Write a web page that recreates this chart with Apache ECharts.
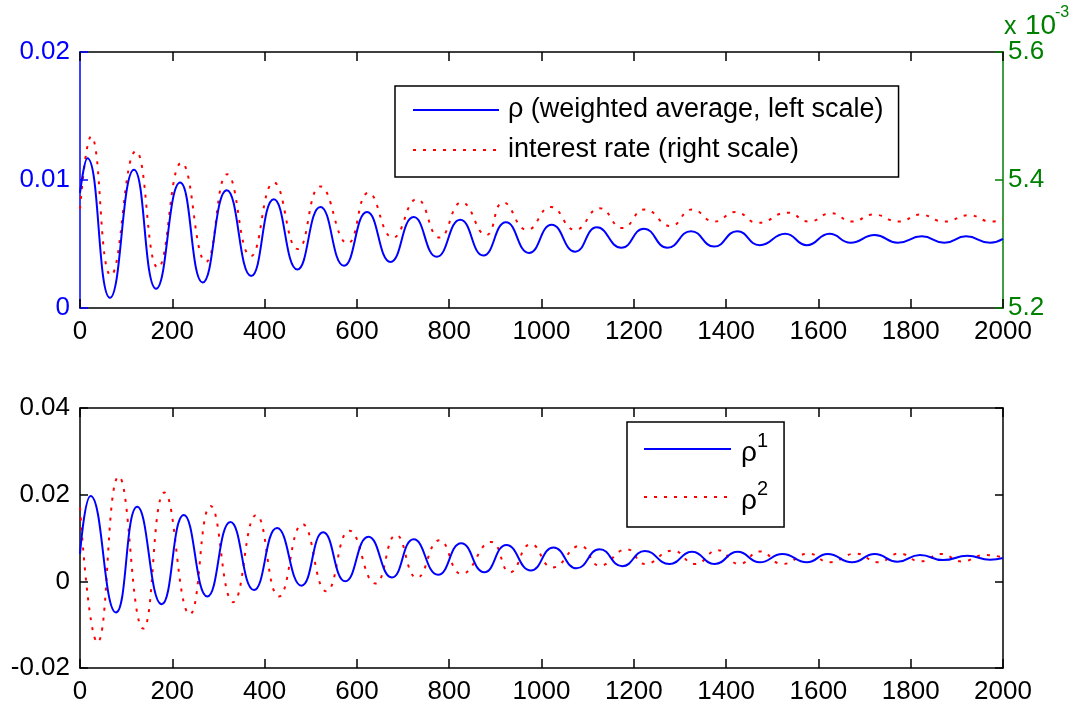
<!DOCTYPE html>
<html>
<head>
<meta charset="utf-8">
<script src="https://cdn.jsdelivr.net/npm/echarts@6/dist/echarts.min.js"></script>
<style>
html,body{margin:0;padding:0;background:#fff;}
#chart{width:1076px;height:711px;}
</style>
</head>
<body>
<div id="chart"></div>
<script>
// ---------- data ----------
const xTicks = [0, 200, 400, 600, 800, 1000, 1200, 1400, 1600, 1800, 2000];

// top panel: rho (weighted average, left scale)
const rhoAvgT = [0, 16, 65, 117, 165, 217, 266, 318, 371, 420, 471, 521, 572, 622, 673, 723, 773, 824, 874, 923, 973, 1022, 1073, 1120, 1173, 1222, 1273, 1324, 1374, 1424, 1473, 1528, 1575, 1624, 1670, 1722, 1772, 1824, 1873, 1920, 1972, 2000];
const rhoAvgV = [0.0090, 0.0117, 0.0008, 0.0108, 0.0015, 0.0098, 0.0020, 0.0092, 0.0025, 0.0085, 0.0030, 0.0079, 0.0033, 0.0075, 0.0036, 0.0071, 0.0040, 0.0069, 0.0041, 0.0067, 0.0043, 0.0065, 0.0044, 0.0063, 0.0047, 0.0062, 0.0047, 0.0060, 0.0048, 0.0060, 0.0049, 0.0058, 0.0049, 0.0058, 0.0051, 0.0057, 0.0051, 0.0056, 0.0051, 0.0056, 0.0051, 0.0054];

// top panel: interest rate (right scale, x 10^-3)
const rateT = [0, 24, 67, 121, 169, 220, 273, 319, 370, 420, 472, 521, 580, 625, 678, 730, 779, 827, 880, 917, 969, 1020, 1073, 1126, 1175, 1224, 1280, 1326, 1375, 1420, 1469, 1533, 1579, 1628, 1673, 1719, 1775, 1820, 1873, 1926, 1975, 2000];
const rateV = [5.355, 5.468, 5.251, 5.445, 5.263, 5.427, 5.272, 5.409, 5.281, 5.396, 5.292, 5.390, 5.301, 5.380, 5.310, 5.370, 5.310, 5.365, 5.314, 5.365, 5.322, 5.358, 5.322, 5.356, 5.325, 5.354, 5.328, 5.354, 5.335, 5.350, 5.333, 5.349, 5.335, 5.348, 5.335, 5.346, 5.335, 5.346, 5.335, 5.345, 5.335, 5.338];

// bottom panel: rho^1
const rho1T = [0, 23, 78, 124, 177, 225, 276, 326, 377, 427, 480, 527, 575, 625, 676, 723, 776, 826, 876, 924, 977, 1026, 1076, 1126, 1175, 1224, 1277, 1326, 1375, 1425, 1473, 1522, 1575, 1620, 1673, 1722, 1771, 1820, 1870, 1923, 1972, 2000];
const rho1V = [0.0063, 0.0197, -0.0072, 0.0172, -0.0053, 0.0153, -0.0035, 0.0137, -0.0020, 0.0123, -0.0010, 0.0113, 0.0000, 0.0103, 0.0009, 0.0097, 0.0015, 0.0088, 0.0021, 0.0084, 0.0025, 0.0078, 0.0030, 0.0074, 0.0035, 0.0070, 0.0040, 0.0068, 0.0040, 0.0068, 0.0044, 0.0063, 0.0044, 0.0063, 0.0044, 0.0063, 0.0045, 0.0061, 0.0049, 0.0059, 0.0050, 0.0054];

// bottom panel: rho^2
const rho2T = [0, 38, 84, 137, 183, 238, 283, 332, 382, 431, 482, 534, 584, 640, 685, 730, 779, 827, 891, 932, 977, 1024, 1084, 1126, 1185, 1224, 1284, 1333, 1382, 1428, 1473, 1522, 1579, 1624, 1681, 1730, 1775, 1821, 1866, 1911, 1961, 2000];
const rho2V = [0.0170, -0.0141, 0.0242, -0.0109, 0.0205, -0.0076, 0.0174, -0.0048, 0.0153, -0.0035, 0.0132, -0.0023, 0.0117, -0.0005, 0.0107, 0.0008, 0.0095, 0.0017, 0.0091, 0.0021, 0.0086, 0.0032, 0.0082, 0.0036, 0.0074, 0.0040, 0.0071, 0.0040, 0.0072, 0.0040, 0.0069, 0.0040, 0.0064, 0.0044, 0.0064, 0.0044, 0.0064, 0.0046, 0.0063, 0.0046, 0.0061, 0.0055];

const topLeftTicks = [0, 0.01, 0.02];
const topRightTicks = [5.2, 5.4, 5.6];
const bottomTicks = [-0.02, 0, 0.02, 0.04];

const legendTop = ['ρ (weighted average, left scale)', 'interest rate (right scale)'];
const legendBottom = ['ρ1', 'ρ2'];

// ---------- chart ----------
const FONT = '"Liberation Sans", Arial, sans-serif';
const BLUE = '#0000ff', RED = '#ff0000', GREEN = '#008000', BLACK = '#000000';
const pair = (t, v) => t.map((x, i) => [x, v[i]]);
const fmt = v => (Math.abs(v) < 1e-12 ? '0' : String(+v.toFixed(4)));
const fmtX = v => String(Math.round(v));

function xAxisDef(grid, pos, labels) {
  return {
    type: 'value', gridIndex: grid, position: pos,
    min: xTicks[0], max: xTicks[xTicks.length - 1], interval: xTicks[1] - xTicks[0],
    axisLine: { show: true, onZero: false, lineStyle: { color: BLACK, width: 1.5 } },
    axisTick: { show: true, inside: true, length: 9, lineStyle: { color: BLACK, width: 1.5 } },
    axisLabel: { show: labels, color: BLACK, fontSize: 26, fontFamily: FONT, margin: 11, formatter: fmtX, showMinLabel: true, showMaxLabel: true },
    splitLine: { show: false }
  };
}
function yAxisDef(grid, pos, ticks, color, labels, margin) {
  return {
    type: 'value', gridIndex: grid, position: pos,
    min: ticks[0], max: ticks[ticks.length - 1], interval: +(ticks[1] - ticks[0]).toFixed(6),
    axisLine: { show: true, onZero: false, lineStyle: { color: color, width: 1.5 } },
    axisTick: { show: true, inside: true, length: 8, lineStyle: { color: color, width: 1.5 } },
    axisLabel: { show: labels, color: color, fontSize: 26, fontFamily: FONT, margin: margin, formatter: fmt, showMinLabel: true, showMaxLabel: true },
    splitLine: { show: false }
  };
}

const chart = echarts.init(document.getElementById('chart'), null, { renderer: 'canvas' });
chart.setOption({
  animation: false,
  backgroundColor: '#ffffff',
  grid: [
    { left: 80, right: 73, top: 52, height: 256, containLabel: false },
    { left: 80, right: 73, top: 408, height: 260, containLabel: false }
  ],
  xAxis: [
    xAxisDef(0, 'bottom', true),
    xAxisDef(0, 'top', false),
    xAxisDef(1, 'bottom', true),
    xAxisDef(1, 'top', false)
  ],
  yAxis: [
    yAxisDef(0, 'left', topLeftTicks, BLUE, true, 10),
    yAxisDef(0, 'right', topRightTicks, GREEN, true, 5),
    yAxisDef(1, 'left', bottomTicks, BLACK, true, 10),
    yAxisDef(1, 'right', bottomTicks, BLACK, false, 5)
  ],
  legend: [
    {
      data: legendTop, orient: 'vertical', left: 395, top: 86,
      itemWidth: 86, itemHeight: 14, itemGap: 10,
      padding: [9, 15, 12, 17],
      borderColor: BLACK, borderWidth: 1.5, backgroundColor: '#ffffff',
      selectedMode: false,
      itemStyle: { opacity: 0 },
      textStyle: { fontSize: 27, fontFamily: FONT, color: BLACK, lineHeight: 30, padding: [0, 0, 0, 4] }
    },
    {
      data: legendBottom, orient: 'vertical', left: 627, top: 422,
      itemWidth: 87, itemHeight: 14, itemGap: 12,
      padding: [9, 16, 12, 16],
      borderColor: BLACK, borderWidth: 1.5, backgroundColor: '#ffffff',
      selectedMode: false,
      itemStyle: { opacity: 0 },
      formatter: function (name) { return '{r|ρ}{s|' + name.slice(1) + '}'; },
      textStyle: {
        fontSize: 28, fontFamily: FONT, color: BLACK, lineHeight: 36, padding: [0, 0, 0, 5],
        rich: {
          r: { fontSize: 28, fontFamily: FONT, color: BLACK, lineHeight: 36, verticalAlign: 'bottom', padding: [8, 0, 0, 0] },
          s: { fontSize: 20, fontFamily: FONT, color: BLACK, lineHeight: 36, verticalAlign: 'top' }
        }
      }
    }
  ],
  series: [
    {
      name: legendTop[1], type: 'line', xAxisIndex: 0, yAxisIndex: 1,
      data: pair(rateT, rateV), smooth: 0.5, symbol: 'none',
      lineStyle: { color: RED, width: 2, type: [3, 7] }, itemStyle: { color: RED }
    },
    {
      name: legendTop[0], type: 'line', xAxisIndex: 0, yAxisIndex: 0,
      data: pair(rhoAvgT, rhoAvgV), smooth: 0.5, symbol: 'none',
      lineStyle: { color: BLUE, width: 2, type: 'solid' }, itemStyle: { color: BLUE }
    },
    {
      name: legendBottom[1], type: 'line', xAxisIndex: 2, yAxisIndex: 2,
      data: pair(rho2T, rho2V), smooth: 0.5, symbol: 'none',
      lineStyle: { color: RED, width: 2, type: [3, 7] }, itemStyle: { color: RED }
    },
    {
      name: legendBottom[0], type: 'line', xAxisIndex: 2, yAxisIndex: 2,
      data: pair(rho1T, rho1V), smooth: 0.5, symbol: 'none',
      lineStyle: { color: BLUE, width: 2, type: 'solid' }, itemStyle: { color: BLUE }
    }
  ],
  graphic: [
    { type: 'text', left: 1004, top: 15, style: { text: 'x', fontSize: 25, fontFamily: FONT, fill: GREEN } },
    { type: 'text', left: 1025, top: 12, style: { text: '10', fontSize: 28, fontFamily: FONT, fill: GREEN } },
    { type: 'text', left: 1055, top: 5, style: { text: '-3', fontSize: 16, fontFamily: FONT, fill: GREEN } }
  ]
});
</script>
</body>
</html>
